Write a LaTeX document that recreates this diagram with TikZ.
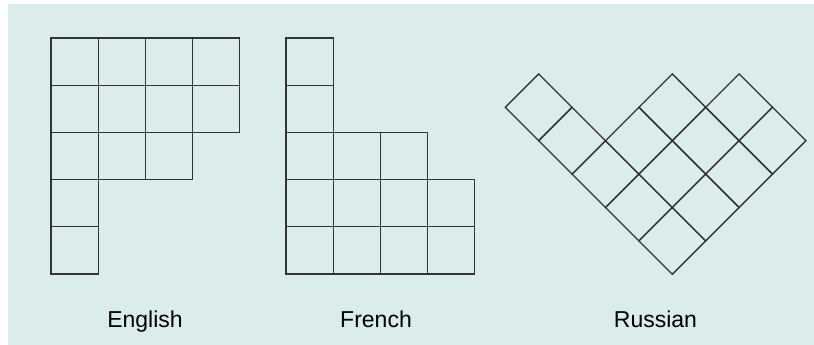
\documentclass[tikz,border=0pt]{standalone}
\usepackage{fontspec}
\setmainfont{Liberation Sans}
\usepackage{xcolor}
\usetikzlibrary{positioning}
\definecolor{panel}{RGB}{219,236,236}

\begin{document}
\begin{tikzpicture}[x=1pt, y=-1pt, font=\fontsize{23}{27}\selectfont]
\tikzstyle{cell}=[draw=black!80, line width=1.3pt, line join=miter]
\tikzstyle{lbl}=[anchor=base, inner sep=0pt]
\useasboundingbox (0,0) rectangle (814,345);
\fill[panel] (8,4) rectangle (814,345);
% english: rows hang down from the top
\begin{scope}[shift={(51,38)}, x=47.2pt, y=-47.2pt]
\foreach \len [count=\r from 0] in {4,4,3,1,1}
  \foreach \c in {1,...,\len}
    \draw[cell] (\c-1,\r) rectangle (\c,\r+1);
\end{scope}
% french: rows stack up from the bottom
\begin{scope}[shift={(286,274)}, x=47.2pt, y=47.2pt]
\foreach \len [count=\r from 0] in {4,4,3,1,1}
  \foreach \c in {1,...,\len}
    \draw[cell] (\c-1,\r) rectangle (\c,\r+1);
\end{scope}
% russian: turned by 45 degrees
\begin{scope}[shift={(672.3,274.3)}, x={(33.4pt,33.4pt)}, y={(-33.4pt,33.4pt)}]
\foreach \len [count=\r from 0] in {4,4,3,1,1}
  \foreach \c in {1,...,\len}
    \draw[cell] (\c-1,\r) -- (\c,\r) -- (\c,\r+1) -- (\c-1,\r+1) -- cycle;
\end{scope}
\node[lbl] (english) at (145,327.7) {English};
\node[lbl] (french) at (376,327.7) {French};
\node[lbl] (russian) at (655.5,327.7) {Russian};
\end{tikzpicture}
\end{document}
